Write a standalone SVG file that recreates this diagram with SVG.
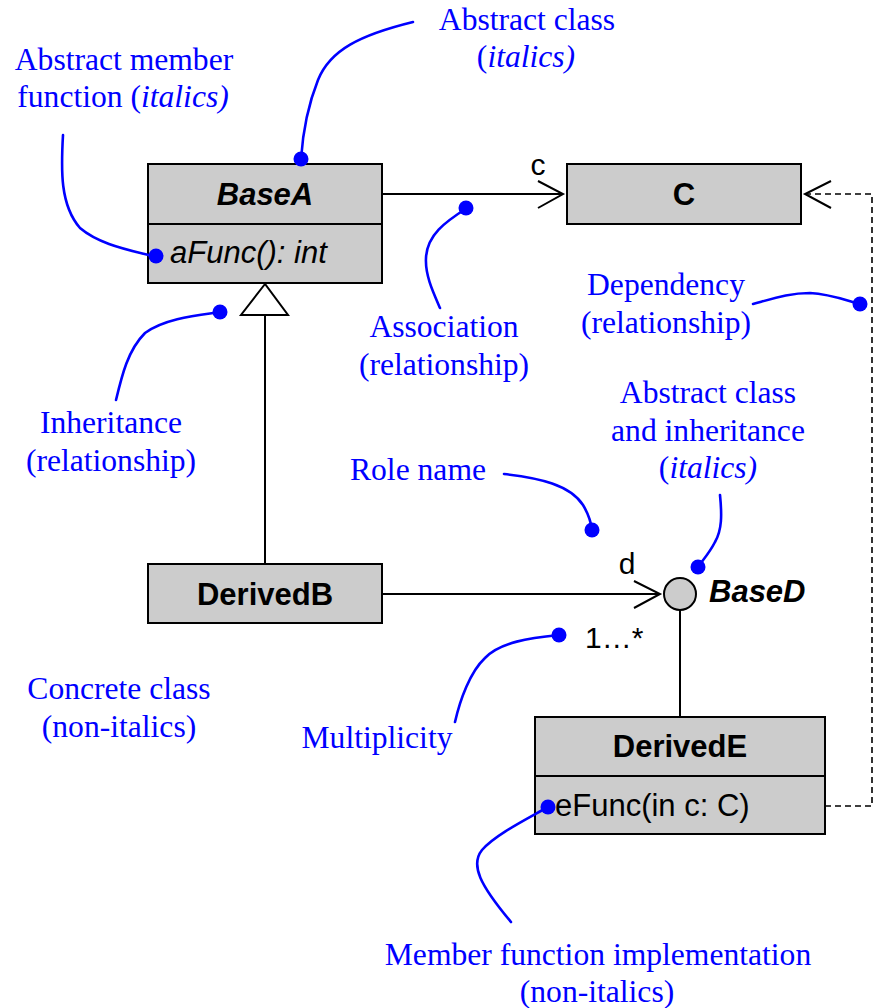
<svg xmlns="http://www.w3.org/2000/svg" width="873" height="1008" viewBox="0 0 873 1008">
<style>
.box{fill:#cccccc;stroke:#000;stroke-width:2}
.ln{fill:none;stroke:#000;stroke-width:2}
.dash{fill:none;stroke:#000;stroke-width:1.6;stroke-dasharray:6,4}
.lead{fill:none;stroke:#0000ff;stroke-width:2.6;stroke-linecap:round}
.dot{fill:#0000ff}
.note{font-family:"Liberation Serif","Times New Roman",serif;font-size:31.6px;fill:#0000ff;text-anchor:middle}
.it{font-style:italic}
.cls{font-family:"Liberation Sans",Arial,sans-serif;font-size:31px;font-weight:bold;fill:#000;text-anchor:middle}
.start{text-anchor:start}
.mem{font-family:"Liberation Sans",Arial,sans-serif;font-size:31px;fill:#000}
.lbl{font-family:"Liberation Sans",Arial,sans-serif;font-size:30px;fill:#000}
</style>

<g id="connectors">
  <line class="ln" x1="382" y1="194" x2="562" y2="194"/>
  <polyline class="ln" points="538,181 563,194 538,208"/>
  <text class="lbl" x="538" y="175" text-anchor="middle">c</text>
  <polygon points="265,284 241,315 288,315" fill="#fff" stroke="#000" stroke-width="2"/>
  <line class="ln" x1="265" y1="315" x2="265" y2="564"/>
  <line class="ln" x1="382" y1="594" x2="659" y2="594"/>
  <polyline class="ln" points="634,581 660,594 634,608"/>
  <text class="lbl" x="627" y="574" text-anchor="middle">d</text>
  <text class="lbl" x="585" y="648">1…*</text>
  <line class="ln" x1="680" y1="610" x2="680" y2="717"/>
  <polyline class="dash" points="825,806 872,806 872,194 806,194"/>
  <polyline class="ln" points="831,181 805,194 831,208" stroke-width="1.8"/>
</g>

<g id="BaseA">
  <rect class="box" x="148" y="164" width="234" height="119"/>
  <line class="ln" x1="148" y1="224" x2="382" y2="224"/>
  <text class="cls it" x="265" y="205">BaseA</text>
  <text class="mem it" x="170" y="263">aFunc(): int</text>
</g>

<g id="C">
  <rect class="box" x="567" y="164" width="234" height="60"/>
  <text class="cls" x="684" y="205">C</text>
</g>

<g id="DerivedB">
  <rect class="box" x="148" y="564" width="234" height="59"/>
  <text class="cls" x="265" y="605">DerivedB</text>
</g>

<g id="BaseD">
  <circle cx="680" cy="594" r="16" fill="#cccccc" stroke="#000" stroke-width="2"/>
  <text class="cls it start" x="709" y="602">BaseD</text>
</g>

<g id="DerivedE">
  <rect class="box" x="535" y="717" width="290" height="117"/>
  <line class="ln" x1="535" y1="776" x2="825" y2="776"/>
  <text class="cls" x="680" y="757">DerivedE</text>
  <text class="mem" x="555" y="816">eFunc(in c: C)</text>
</g>

<g id="note-abstract-member">
  <text class="note" x="124" y="70">Abstract member</text>
  <text class="note" x="123" y="107">function (<tspan class="it">italics)</tspan></text>
  <path class="lead" d="M63,135 C61,170 60,205 80,228 C100,245 130,250 156,257"/>
  <circle class="dot" cx="156" cy="256" r="7.5"/>
</g>

<g id="note-abstract-class">
  <text class="note" x="527" y="30">Abstract class</text>
  <text class="note" x="526" y="67">(<tspan class="it">italics)</tspan></text>
  <path class="lead" d="M413,22 C360,35 330,50 318,80 C308,105 303,130 301,159"/>
  <circle class="dot" cx="301" cy="159" r="7.5"/>
</g>

<g id="note-association">
  <text class="note" x="444" y="337">Association</text>
  <text class="note" x="444" y="375">(relationship)</text>
  <path class="lead" d="M467,208 C445,222 427,235 426,258 C425,275 433,292 440,308"/>
  <circle class="dot" cx="466" cy="208" r="7.5"/>
</g>

<g id="note-dependency">
  <text class="note" x="666" y="295">Dependency</text>
  <text class="note" x="666" y="333">(relationship)</text>
  <path class="lead" d="M753,304 C775,298 790,293 810,293 C830,294 845,300 860,304"/>
  <circle class="dot" cx="860" cy="304" r="7.5"/>
</g>

<g id="note-inheritance">
  <text class="note" x="111" y="433">Inheritance</text>
  <text class="note" x="111" y="471">(relationship)</text>
  <path class="lead" d="M116,400 C122,375 128,350 145,333 C165,318 200,315 220,312"/>
  <circle class="dot" cx="220" cy="312" r="7.5"/>
</g>

<g id="note-role-name">
  <text class="note" x="418" y="480">Role name</text>
  <path class="lead" d="M504,474 C540,478 570,485 583,505 C589,515 591,522 592,530"/>
  <circle class="dot" cx="592" cy="530" r="7.5"/>
</g>

<g id="note-abstract-inheritance">
  <text class="note" x="708" y="403">Abstract class</text>
  <text class="note" x="708" y="441">and inheritance</text>
  <text class="note" x="708" y="478">(<tspan class="it">italics)</tspan></text>
  <path class="lead" d="M720,495 C722,515 722,530 715,542 C710,552 703,560 698,567"/>
  <circle class="dot" cx="698" cy="567" r="7.5"/>
</g>

<g id="note-multiplicity">
  <text class="note" x="377" y="748">Multiplicity</text>
  <path class="lead" d="M559,635 C530,638 500,642 485,658 C470,672 460,700 455,722"/>
  <circle class="dot" cx="559" cy="635" r="7.5"/>
</g>

<g id="note-concrete">
  <text class="note" x="119" y="699">Concrete class</text>
  <text class="note" x="119" y="737">(non-italics)</text>
</g>

<g id="note-member-impl">
  <text class="note" x="598" y="965">Member function implementation</text>
  <text class="note" x="597" y="1002">(non-italics)</text>
  <path class="lead" d="M548,807 C525,820 495,835 482,850 C470,865 480,885 511,922"/>
  <circle class="dot" cx="548" cy="807" r="7.5"/>
</g>
</svg>
